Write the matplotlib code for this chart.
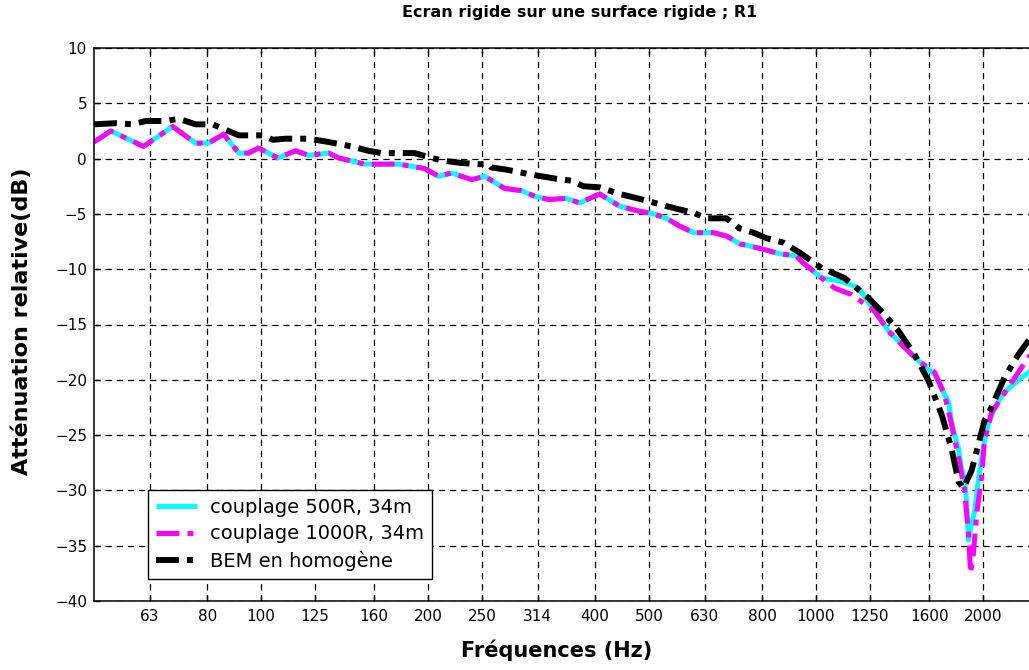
import numpy as np
import matplotlib
matplotlib.use('Agg')
import matplotlib.pyplot as plt

# third-octave tick labels (the chart writes 314 for 315)
tick_freq = [63, 80, 100, 125, 160, 200, 250, 315, 400, 500, 630, 800,
             1000, 1250, 1600, 2000]
tick_text = ['63', '80', '100', '125', '160', '200', '250', '314', '400',
             '500', '630', '800', '1000', '1250', '1600', '2000']

# couplage 500R, 34m (cyan)
f_500 = [50, 53.6, 61.4, 69.3, 76.2, 80.4, 85.6, 91.2, 95, 99, 107.2, 115.4,
         121.8, 132.4, 138, 153.7, 177, 197.2, 209, 220.6, 239.7, 252.9,
         274.7, 294.8, 311.2, 329.9, 355, 375, 407.6, 442.8, 475, 510, 538,
         568, 602, 654, 690, 728, 791, 860, 923, 942, 1024, 1112, 1194, 1276,
         1352, 1427, 1531, 1636, 1705, 1734, 1755, 1777, 1807, 1830, 1853,
         1869, 1884, 1908, 1932, 1964, 2013, 2046, 2098, 2160, 2223, 2347,
         2437, 2600]
db_500 = [1.5, 2.5, 1.1, 2.9, 1.4, 1.4, 2.2, 0.5, 0.5, 0.96, 0.06, 0.7,
          0.3, 0.5, 0.06, -0.5, -0.5, -0.9, -1.6, -1.3, -1.9, -1.6,
          -2.7, -2.9, -3.4, -3.7, -3.6, -4.0, -3.2, -4.3, -4.7, -5.0, -5.4,
          -6.1, -6.7, -6.7, -7.0, -7.7, -8.1, -8.6, -8.8, -9.3, -10.8, -11.1,
          -11.7, -13.8, -15.6, -16.8, -18.3, -19.5, -21.3, -22.0, -23.7,
          -24.9, -26.2, -28.0, -29.0, -31.0, -34.5, -33.0, -31.9, -28.9,
          -25.5, -24.0, -22.6, -21.5, -20.8, -19.8, -19.2, -18.0]

# couplage 1000R, 34m (magenta)
f_1000 = [50, 53.6, 61.4, 69.3, 76.2, 80.4, 85.6, 91.2, 95, 99, 107.2, 115.4,
          121.8, 132.4, 138, 153.7, 177, 197.2, 209, 220.6, 239.7, 252.9,
          274.7, 294.8, 311.2, 329.9, 355, 375, 407.6, 442.8, 475, 510, 538,
          568, 602, 654, 690, 728, 791, 860, 923, 942, 1024, 1080, 1160, 1276,
          1352, 1427, 1531, 1636, 1705, 1755, 1807, 1853, 1884, 1900, 1920,
          1950, 1988, 2013, 2072, 2160, 2347, 2437, 2600]
db_1000 = [1.5, 2.5, 1.1, 2.9, 1.4, 1.4, 2.2, 0.5, 0.5, 0.96, 0.06, 0.7,
           0.3, 0.5, 0.06, -0.5, -0.5, -0.9, -1.6, -1.3, -1.9, -1.6,
           -2.7, -2.9, -3.4, -3.7, -3.6, -4.0, -3.2, -4.3, -4.7, -5.0, -5.4,
           -6.1, -6.7, -6.7, -7.0, -7.7, -8.1, -8.6, -8.8, -9.3, -10.8,
           -11.7, -12.3, -13.8, -15.6, -16.8, -18.3, -19.3, -21.3, -24.0,
           -27.0, -30.0, -34.0, -37.5, -36.0, -32.0, -28.9, -25.5, -23.0,
           -21.6, -18.9, -17.7, -16.5]

# BEM en homogene (black)
f_bem = [50, 54.7, 58.7, 62, 67.3, 71.1, 76.2, 81.8, 86.4, 91.2, 100.7, 105,
         110.8, 121.8, 132.4, 145.7, 156.3, 165, 179, 189, 203, 214, 230,
         247, 257, 260, 277, 303.5, 338, 362.8, 381, 407.6, 442.8, 469, 495,
         538, 568, 602, 635, 690, 728, 772, 815, 874, 935, 1024, 1126, 1244,
         1329, 1409, 1506, 1596, 1684, 1755, 1807, 1845, 1908, 1964, 2013,
         2072, 2187, 2318, 2437, 2600]
db_bem = [3.1, 3.2, 3.1, 3.4, 3.4, 3.6, 3.1, 3.1, 2.6, 2.1, 2.1, 1.7,
          1.8, 1.8, 1.5, 1.1, 0.7, 0.5, 0.5, 0.5, 0.05, -0.2, -0.4,
          -0.5, -0.5, -0.8, -1.0, -1.4, -1.8, -2.0, -2.5, -2.6, -3.2, -3.5,
          -3.8, -4.3, -4.6, -4.9, -5.4, -5.4, -6.3, -6.7, -7.2, -7.6, -8.5,
          -9.9, -10.8, -12.6, -14.1, -15.6, -17.7, -20.1, -23.1, -26.2,
          -29.2, -29.8, -28.2, -25.8, -23.7, -22.5, -19.8, -17.7, -16.2,
          -15.0]

plt.rcParams['lines.scale_dashes'] = False

W, H = 1029, 670
fig = plt.figure(figsize=(W / 100, H / 100), dpi=100)
ax = fig.add_axes([94 / W, (H - 601) / H, 970 / W, 553 / H])

dashdot = (0, (16.5, 5.8, 4.3, 5.8))
ax.plot(f_500, db_500, color='#00ffff', lw=3.6, label='couplage 500R, 34m',
        solid_capstyle='butt')
ax.plot(f_1000, db_1000, color='#ff00ff', lw=3.6, linestyle=dashdot,
        label='couplage 1000R, 34m')
ax.plot(f_bem, db_bem, color='black', lw=4.3, linestyle=dashdot,
        label='BEM en homogène')

ax.set_xscale('log')
ax.set_xlim(50, 2800)
ax.set_ylim(-40, 10)
ax.set_xticks(tick_freq)
ax.set_xticklabels(tick_text)
ax.xaxis.set_minor_locator(matplotlib.ticker.NullLocator())
ax.set_yticks(np.arange(-40, 11, 5))
ax.tick_params(direction='in', top=True, right=True, length=4, width=1,
               labelsize=11, colors='black')
ax.tick_params(axis='x', pad=6)
ax.tick_params(axis='y', pad=5)
ax.grid(True, color='black', linestyle=(0, (4.5, 3.5)), linewidth=0.9)
for sp in ax.spines.values():
    sp.set_linewidth(1.1)

leg = ax.legend(loc='lower left', bbox_to_anchor=(148 / W, (H - 579) / H),
                bbox_transform=fig.transFigure, borderaxespad=0,
                fontsize=14, handlelength=2.1, handletextpad=0.7,
                labelspacing=0.4, borderpad=0.4, fancybox=False,
                framealpha=1, edgecolor='black')
leg.get_frame().set_linewidth(1.0)

fig.text(580 / W, 1 - 12 / H, 'Ecran rigide sur une surface rigide ; R1',
         ha='center', va='center', fontsize=11.5, fontweight='bold')
fig.text(557 / W, 1 - 650 / H, 'Fréquences (Hz)', ha='center',
         va='center', fontsize=15, fontweight='bold')
fig.text(22 / W, 1 - 321 / H, 'Atténuation relative(dB)', ha='center',
         va='center', rotation=90, fontsize=16, fontweight='bold')

fig.savefig('out.png', dpi=100)
